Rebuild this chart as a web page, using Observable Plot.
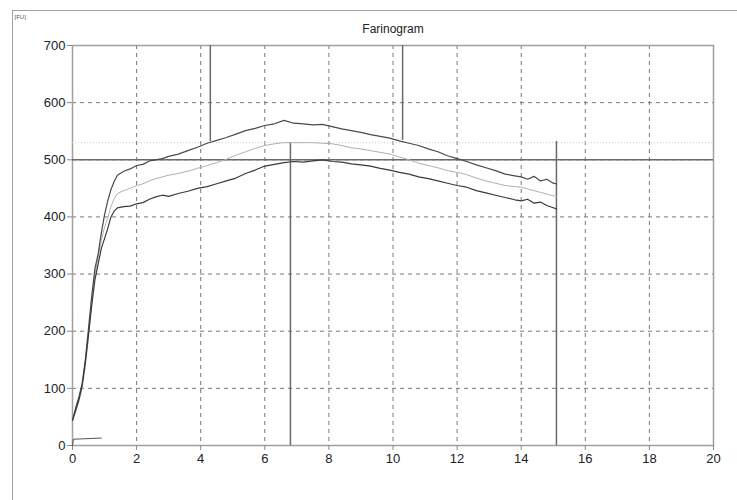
<!DOCTYPE html>
<html>
<head>
<meta charset="utf-8">
<script src="https://cdn.jsdelivr.net/npm/d3@7"></script>
<script src="https://cdn.jsdelivr.net/npm/@observablehq/plot@0.6"></script>
<style>
  html, body { margin: 0; padding: 0; background: #fff; }
  #wrap { position: relative; width: 737px; height: 500px; overflow: hidden; }
  #border { position: absolute; left: 12px; top: 10px; width: 740px; height: 500px;
            border-top: 1.5px solid #a0a0a0; border-left: 1.5px solid #a0a0a0; pointer-events: none; }
</style>
</head>
<body>
<div id="wrap"><div id="border"></div></div>
<script>
// time in minutes
const time = [0, 0.1, 0.2, 0.3, 0.4, 0.5, 0.6, 0.7, 0.8, 0.9, 1.0, 1.1, 1.2, 1.3, 1.4,
  1.6, 1.8, 2.0, 2.2, 2.4, 2.6, 2.8, 3.0,
  3.3, 3.6, 3.9, 4.2, 4.5, 4.8, 5.1, 5.4, 5.7, 6.0, 6.3, 6.6, 6.9, 7.2, 7.5, 7.8, 8.1, 8.4, 8.7, 9.0,
  9.3, 9.6, 9.9, 10.2, 10.5, 10.8, 11.1, 11.4, 11.7, 12.0, 12.3, 12.6, 12.9, 13.2, 13.5, 13.8,
  14.0, 14.2, 14.4, 14.6, 14.8, 15.0, 15.1];

// upper band (dark)
const upper = [44, 66, 85, 108, 150, 205, 262, 310, 335, 372, 404, 428, 448, 462, 473,
  480, 484, 490, 492, 498, 500, 502, 506,
  510, 516, 522, 529, 534, 539, 545, 551, 555, 560, 563, 569, 564, 563, 561, 562, 558, 554, 551, 548,
  544, 541, 538, 533, 529, 525, 519, 514, 507, 502, 497, 491, 486, 481, 475, 472,
  470, 466, 471, 463, 466, 459, 458];

// median (light)
const median = [44, 58, 78, 100, 138, 190, 250, 300, 330, 360, 382, 398, 418, 432, 441,
  446, 450, 455, 458, 463, 467, 470, 473,
  476, 480, 485, 490, 495, 501, 508, 514, 520, 525, 528, 530, 530, 530, 530, 529, 528, 525, 521, 519,
  516, 513, 510, 505, 500, 494, 490, 486, 481, 478, 474, 468, 463, 459, 455, 453,
  452, 449, 446, 443, 440, 437, 436];

// lower band (dark)
const lower = [44, 62, 80, 105, 145, 195, 245, 290, 318, 345, 362, 380, 400, 410, 416,
  418, 419, 423, 425, 431, 435, 438, 436,
  441, 445, 450, 453, 458, 463, 468, 476, 482, 489, 492, 495, 497, 496, 498, 500, 497, 496, 493, 491,
  489, 485, 482, 478, 475, 470, 467, 463, 459, 455, 452, 446, 442, 438, 434, 430,
  428, 431, 424, 426, 420, 416, 414];

// reference markers
const markX  = [4.3, 10.3, 6.8, 15.1];
const markY1 = [532, 534, 0, 0];
const markY2 = [700, 700, 530, 532];
const lineLevel = 500;
const dottedLevel = 530;

// small start trace
const startX = [0, 0.03, 0.9];
const startY = [0, 11, 13];

const xTicks = [0, 2, 4, 6, 8, 10, 12, 14, 16, 18, 20];
const yTicks = [0, 100, 200, 300, 400, 500, 600, 700];

const rows = (ys) => time.map((t, i) => ({t, v: ys[i]}));
const marks = markX.map((x, i) => ({x, y1: markY1[i], y2: markY2[i]}));
const start = startX.map((x, i) => ({x, y: startY[i]}));

const chart = Plot.plot({
  width: 737,
  height: 500,
  marginLeft: 72,
  marginRight: 24,
  marginTop: 45,
  marginBottom: 55,
  style: {fontFamily: "'Liberation Sans', Arial, sans-serif", fontSize: "13px", color: "#222", background: "transparent"},
  x: {domain: [0, 20]},
  y: {domain: [0, 700]},
  marks: [
    Plot.gridX(xTicks.slice(1, -1), {stroke: "#777", strokeOpacity: 1, strokeDasharray: "4,4"}),
    Plot.gridY(yTicks.slice(1, -1), {stroke: "#777", strokeOpacity: 1, strokeDasharray: "4,4"}),
    Plot.frame({stroke: "#a0a0a0", strokeWidth: 1.5}),
    Plot.axisX(xTicks, {tickSize: 5, tickPadding: 3, label: null, stroke: "#888", fill: "#222", fontSize: 13}),
    Plot.axisY(yTicks, {tickSize: 5, tickPadding: 2, label: null, stroke: "#888", fill: "#222", fontSize: 13}),
    Plot.ruleY([dottedLevel], {stroke: "#cfcfcf", strokeWidth: 1, strokeDasharray: "1,2"}),
    Plot.ruleY([lineLevel], {stroke: "#6a6a6a", strokeWidth: 1.5}),
    Plot.ruleX(marks, {x: "x", y1: "y1", y2: "y2", stroke: "#6a6a6a", strokeWidth: 1.5}),
    Plot.line(rows(median), {x: "t", y: "v", stroke: "#b0b0b0", strokeWidth: 1}),
    Plot.line(rows(upper), {x: "t", y: "v", stroke: "#4a4a4a", strokeWidth: 1.2}),
    Plot.line(rows(lower), {x: "t", y: "v", stroke: "#3a3a3a", strokeWidth: 1.2}),
    Plot.line(start, {x: "x", y: "y", stroke: "#555", strokeWidth: 1}),
    Plot.text(["Farinogram"], {frameAnchor: "top", dy: -21, fontSize: 12, fill: "#222"}),
    Plot.text(["[FU]"], {frameAnchor: "top-left", textAnchor: "start", dx: -58, dy: -31, fontSize: 6, fill: "#555"})
  ]
});

document.getElementById("wrap").appendChild(chart);
</script>
</body>
</html>
